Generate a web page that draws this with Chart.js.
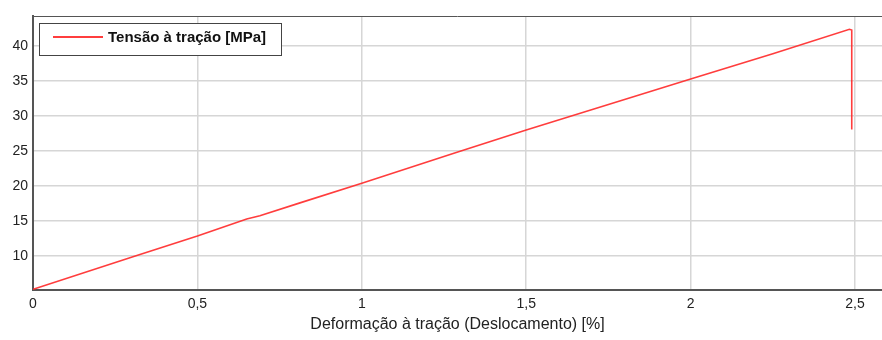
<!DOCTYPE html>
<html>
<head>
<meta charset="utf-8">
<script src="https://cdn.jsdelivr.net/npm/chart.js@4/dist/chart.umd.min.js"></script>
<style>
html,body{margin:0;padding:0;background:#fff;}
#wrap{width:882px;height:340px;}
</style>
</head>
<body>
<div id="wrap"><canvas id="c" width="882" height="340"></canvas></div>
<script>
// Data
const strainPct = [0, 0.304, 0.5, 0.65, 0.69, 0.812, 1.0, 1.28, 1.5, 2.0, 2.25, 2.483, 2.49, 2.49];
const stressMPa = [5.25, 9.9, 12.86, 15.3, 15.76, 17.6, 20.4, 24.7, 28.0, 35.3, 38.9, 42.4, 42.3, 28.1];
const xTicks = [0, 0.5, 1, 1.5, 2, 2.5];
const yTicks = [10, 15, 20, 25, 30, 35, 40];
const seriesLabel = 'Tensão à tração [MPa]';
const xTitle = 'Deformação à tração (Deslocamento) [%]';

const FONT = '"Liberation Sans", Arial, sans-serif';
const points = strainPct.map((x, i) => ({x: x, y: stressMPa[i]}));

const frameAndLegend = {
  id: 'frameAndLegend',
  afterDraw(chart) {
    const ctx = chart.ctx, a = chart.chartArea;
    ctx.save();
    // top border
    ctx.strokeStyle = '#555';
    ctx.lineWidth = 1;
    ctx.beginPath();
    ctx.moveTo(a.left, a.top + 0.5);
    ctx.lineTo(a.right, a.top + 0.5);
    ctx.stroke();
    // legend box
    const bx = a.left + 6, by = a.top + 7, bw = 242, bh = 32;
    ctx.fillStyle = '#fff';
    ctx.fillRect(bx, by, bw, bh);
    ctx.strokeStyle = '#444';
    ctx.lineWidth = 1;
    ctx.strokeRect(bx + 0.5, by + 0.5, bw, bh);
    const ds = chart.data.datasets[0];
    ctx.strokeStyle = ds.borderColor;
    ctx.lineWidth = 2;
    ctx.beginPath();
    ctx.moveTo(bx + 14, by + 14);
    ctx.lineTo(bx + 64, by + 14);
    ctx.stroke();
    ctx.fillStyle = '#111';
    ctx.font = 'bold 15px ' + FONT;
    ctx.textBaseline = 'middle';
    ctx.textAlign = 'left';
    ctx.fillText(ds.label, bx + 69, by + 15);
    ctx.restore();
  }
};

new Chart(document.getElementById('c'), {
  type: 'line',
  data: {
    datasets: [{
      label: seriesLabel,
      data: points,
      borderColor: 'rgba(255,40,40,0.9)',
      borderWidth: 1.6,
      pointRadius: 0,
      tension: 0,
      fill: false
    }]
  },
  options: {
    responsive: false,
    animation: false,
    layout: {padding: {top: 16, right: 0, left: 0, bottom: 0}},
    plugins: {legend: {display: false}, tooltip: {enabled: false}},
    scales: {
      x: {
        type: 'linear',
        min: 0,
        max: 2.582,
        afterBuildTicks: s => { s.ticks = xTicks.map(v => ({value: v})); },
        afterFit: s => { s.height = 50; },
        ticks: {
          color: '#222',
          font: {family: FONT, size: 14},
          padding: 6,
          maxRotation: 0,
          callback: v => String(v).replace('.', ',')
        },
        grid: {color: '#d6d6d6', lineWidth: 1.5, drawTicks: false},
        border: {color: '#555', width: 2},
        title: {
          display: true,
          text: xTitle,
          color: '#222',
          font: {family: FONT, size: 16},
          padding: {top: 0, bottom: 6}
        }
      },
      y: {
        type: 'linear',
        min: 5.15,
        max: 44.3,
        afterBuildTicks: s => { s.ticks = yTicks.map(v => ({value: v})); },
        afterFit: s => { s.width = 33; },
        ticks: {
          color: '#222',
          font: {family: FONT, size: 14},
          padding: 5
        },
        grid: {color: '#d6d6d6', lineWidth: 1.5, drawTicks: false},
        border: {color: '#555', width: 2}
      }
    }
  },
  plugins: [frameAndLegend]
});
</script>
</body>
</html>
